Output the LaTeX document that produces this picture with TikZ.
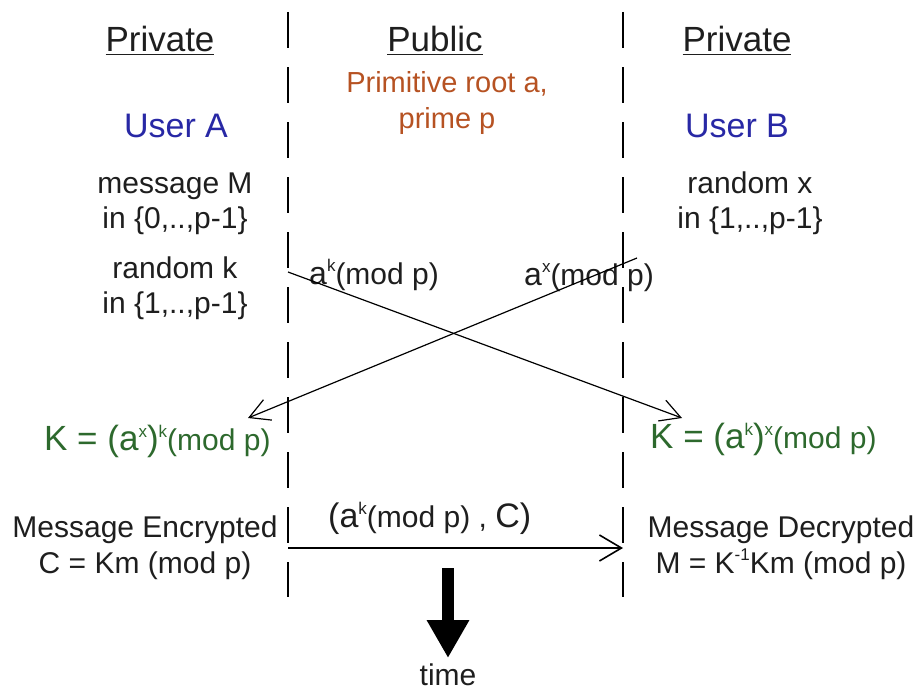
\documentclass[tikz,border=0pt]{standalone}
\usepackage{fontspec}
\setmainfont{Liberation Sans}
\usetikzlibrary{arrows.meta}
\definecolor{rootc}{RGB}{182,82,34}
\definecolor{userc}{RGB}{40,40,165}
\definecolor{keyc}{RGB}{45,105,45}
\definecolor{txtc}{RGB}{30,30,30}
\newcommand{\fA}{\fontsize{30}{36}\selectfont}
\newcommand{\fB}{\fontsize{34}{40}\selectfont}
\newcommand{\fS}{\fontsize{17}{20}\selectfont}
\newcommand{\supx}[1]{\raisebox{0.42em}{\fS #1}}
\tikzset{
  lbl/.style={anchor=base, inner sep=0pt, text=txtc, font=\fA, align=center},
  head/.style={lbl, font=\fontsize{35}{40}\selectfont},
  divider/.style={line width=1.4pt, dash pattern=on 36pt off 19pt},
  msg/.style={line width=1.2pt, -{Straight Barb[length=20pt,width=22pt,line width=1.2pt]}},
  sendarrow/.style={line width=2pt, -{Straight Barb[length=22pt,width=26pt,line width=1.6pt]}},
  timearrow/.style={line width=12pt, -{Triangle[length=38pt,width=40pt]}}
}
\begin{document}
\begin{tikzpicture}[x=1pt,y=-1pt]
\useasboundingbox (0,0) rectangle (917,693);
% dividers
\coordinate (l1) at (288,12);
\coordinate (l2) at (288,597);
\coordinate (r1) at (623,12);
\coordinate (r2) at (623,597);
\draw[divider] (l1) -- (l2);
\draw[divider] (r1) -- (r2);
% headings
\node[head] (hpa) at (160,52) {\underline{Private}};
\node[head] (hpub) at (435,52) {\underline{Public}};
\node[head] (hpb) at (737,52) {\underline{Private}};
\node[lbl, text=rootc, font=\fontsize{29}{36}\selectfont] (root) at (447,92) {Primitive root a,};
\node[lbl, text=rootc, font=\fontsize{29}{36}\selectfont] (prime) at (447,128) {prime p};
\node[lbl, text=userc, font=\fB] (ua) at (176,137) {User A};
\node[lbl, text=userc, font=\fB] (ub) at (737,137) {User B};
% user A private
\node[lbl] (m1) at (175,193) {message M};
\node[lbl] (m2) at (175,228) {in \{0,..,p-1\}};
\node[lbl] (k1) at (175,278) {random k};
\node[lbl] (k2) at (175,313) {in \{1,..,p-1\}};
% user B private
\node[lbl] (x1) at (750,193) {random x};
\node[lbl] (x2) at (750,228) {in \{1,..,p-1\}};
% exchanged values
\node[lbl, anchor=base west] (ak) at (309,284) {{\fontsize{32}{36}\selectfont a}\supx{k}(mod p)};
\node[lbl, anchor=base west] (ax) at (524,285) {{\fontsize{32}{36}\selectfont a}\supx{x}(mod p)};
% keys
\node[lbl, anchor=base west, text=keyc] (ka) at (44,450) {{\fontsize{35}{40}\selectfont K = (a}\supx{x}{\fontsize{35}{40}\selectfont )}\supx{k}(mod p)};
\node[lbl, anchor=base west, text=keyc] (kb) at (650,448) {{\fontsize{35}{40}\selectfont K = (a}\supx{k}{\fontsize{35}{40}\selectfont )}\supx{x}(mod p)};
% encryption / decryption
\node[lbl] (e1) at (145,537) {Message Encrypted};
\node[lbl] (e2) at (145,573) {C = Km (mod p)};
\node[lbl] (d1) at (781,537) {Message Decrypted};
\node[lbl] (d2) at (781,573) {M = K\supx{-1}Km (mod p)};
\node[lbl, anchor=base west] (ct) at (328,527) {{\fontsize{34}{40}\selectfont (a}\supx{k}(mod p) , {\fontsize{34}{40}\selectfont C)}};
\node[lbl] (time) at (448,685) {time};
% crossing arrows
\coordinate (akS) at (288,272);
\coordinate (akE) at (682,418);
\coordinate (axS) at (637,258);
\coordinate (axE) at (248,418);
\draw[msg] (akS) -- (akE);
\draw[msg] (axS) -- (axE);
% send ciphertext
\coordinate (cS) at (288,548);
\coordinate (cE) at (623,548);
\draw[sendarrow] (cS) -- (cE);
% time arrow
\coordinate (tS) at (448,568);
\coordinate (tE) at (448,658);
\draw[timearrow] (tS) -- (tE);
\end{tikzpicture}
\end{document}
